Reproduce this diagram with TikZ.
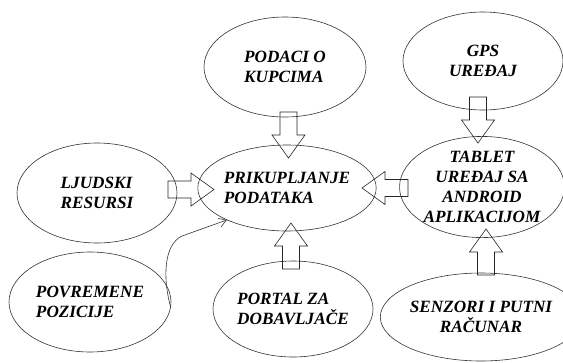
\documentclass[tikz,border=0pt]{standalone}
\usepackage{fontspec}
\setmainfont{Liberation Serif}
\usetikzlibrary{shapes.geometric,arrows.meta}
\tikzset{
  fatarrow/.pic={\draw[line width=0.6pt, black!85] (0,-8.5) -- (23,-8.5) -- (23,-16.5) -- (46,0) -- (23,16.5) -- (23,8.5) -- (0,8.5) -- cycle;}
}
\begin{document}
\begin{tikzpicture}[x=1pt, y=-1pt, every node/.style={ellipse, draw=black!80, line width=0.6pt, inner sep=0pt, align=left, font=\bfseries\itshape\fontsize{17.2}{20}\selectfont}]
            \useasboundingbox (0,0) rectangle (563,362);
            \node[minimum width=162pt, minimum height=100pt] (podaci) at (285,67) {PODACI O\\KUPCIMA};
            \node[minimum width=160pt, minimum height=100pt] (ljudski) at (97,193) {LJUDSKI\\RESURSI};
            \node[minimum width=168pt, minimum height=86pt] (prikup) at (287,188) {PRIKUPLJANJE\\PODATAKA};
            \node[minimum width=162pt, minimum height=100pt] (povrem) at (90,302) {POVREMENE\\POZICIJE};
            \node[minimum width=160pt, minimum height=96pt] (portal) at (293,309) {PORTAL ZA\\DOBAVLJAČE};
            \node[align=center, minimum width=160pt, minimum height=98pt] (gps) at (483,61) {GPS\\UREĐAJ};
            \node[align=center, minimum width=161pt, minimum height=94pt] (tablet) at (482,187) {TABLET\\UREĐAJ SA\\ANDROID\\APLIKACIJOM};
            \node[align=center, minimum width=162pt, minimum height=88pt] (senzori) at (481,317) {SENZORI I PUTNI\\RAČUNAR};
            \pic at (168,189.5) {fatarrow};
            \pic[rotate=-90] at (288.5,112) {fatarrow};
            \pic[rotate=180] at (408,188) {fatarrow};
            \pic[rotate=90] at (291,269) {fatarrow};
            \pic[rotate=-90] at (478,97) {fatarrow};
            \pic[rotate=90] at (486,275) {fatarrow};
            \draw[black!80, line width=0.6pt, -{Straight Barb[length=7pt,width=9pt]}] (povrem.356) .. controls (163,280) and (163,245) .. (182,236) -- (prikup.208);
        \end{tikzpicture}
\end{document}
